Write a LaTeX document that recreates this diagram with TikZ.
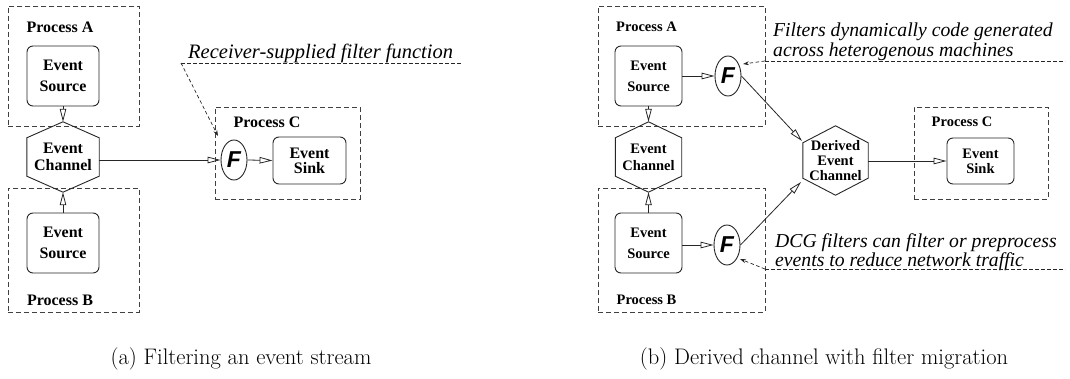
\documentclass[tikz,border=0pt]{standalone}
\usepackage{fontspec}
\newfontfamily\tms{Liberation Serif}
\newfontfamily\hlv{Liberation Sans}
\usetikzlibrary{arrows.meta,shapes.geometric}
\tikzset{
 procbox/.style={draw=black!75, line width=0.8pt, dash pattern=on 5pt off 3pt, inner sep=0pt},
 plabL/.style={font=\tms\bfseries\fontsize{16}{19}\selectfont, inner sep=0pt},
 plabR/.style={font=\tms\bfseries\fontsize{14.5}{17}\selectfont, inner sep=0pt},
 rbox/.style={draw=black!85, line width=0.9pt, rounded corners=6pt, align=center, inner sep=0pt},
 hexnode/.style={align=center, inner sep=0pt},
 hexline/.style={draw=black!85, line width=0.9pt, line join=miter},
 filt/.style={draw=black!85, line width=0.9pt, ellipse, minimum width=26pt, minimum height=40pt, inner sep=0pt, font=\hlv\bfseries\itshape\fontsize{23}{23}\selectfont},
 flow/.style={draw=black!85, line width=0.8pt, -{Triangle[open,length=13pt,width=6.5pt]}},
 note/.style={inner sep=0pt, anchor=base west, align=left},
 noteline/.style={draw=black!85, line width=0.7pt, dash pattern=on 3.5pt off 2.5pt},
 notearrow/.style={noteline, -{Stealth[length=6pt,width=4pt]}},
 capt/.style={font=\fontsize{22.5}{24}\selectfont, inner sep=0pt, anchor=base}
}
\begin{document}
\begin{tikzpicture}[x=1pt,y=-1pt]
\useasboundingbox (0,0) rectangle (1070,379);
% ---------------- (a) ----------------
\node[procbox, minimum width=131pt, minimum height=120pt] (pA) at (73.5,66) {};
\node[plabL] (pAl) at (60,27) {Process A};
\node[rbox, minimum width=72pt, minimum height=60pt, font=\tms\bfseries\fontsize{16}{21}\selectfont] (sA) at (63,76) {Event\\Source};
\node[procbox, minimum width=131pt, minimum height=124pt] (pB) at (73.5,250) {};
\node[plabL] (pBl) at (60,300) {Process B};
\node[rbox, minimum width=72pt, minimum height=60pt, font=\tms\bfseries\fontsize{16}{21}\selectfont] (sB) at (63,243) {Event\\Source};
\node[hexnode, minimum width=72pt, minimum height=70pt, font=\tms\bfseries\fontsize{16}{17}\selectfont] (ch) at (63,157) {Event\\Channel};
\draw[hexline] (ch.north) -- ([yshift=-16pt]ch.north east) -- ([yshift=16pt]ch.south east) -- (ch.south) -- ([yshift=16pt]ch.south west) -- ([yshift=-16pt]ch.north west) -- cycle;
\draw[flow] (sA.south) -- (ch.north);
\draw[flow] (sB.north) -- (ch.south);
\node[procbox, minimum width=145pt, minimum height=92pt] (pC) at (287.5,153) {};
\node[plabL] (pCl) at (267,122) {Process C};
\node[filt] (fL) at (234,160) {F};
\node[rbox, minimum width=73pt, minimum height=47pt, font=\tms\bfseries\fontsize{16}{15}\selectfont] (sk) at (309.5,160.5) {Event\\Sink};
\draw[flow] (ch.east |- fL.west) -- (fL.west);
\draw[flow] (fL.east) -- (sk.west);
\node[note, font=\tms\itshape\fontsize{20.5}{22}\selectfont] (nL) at (188,59) {Receiver-supplied filter function};
\coordinate (nLs) at (181,63);
\coordinate (nLe) at (462,63);
\coordinate (nLt) at (218,136);
\draw[noteline] (nLs) -- (nLe);
\draw[notearrow] (nLs) -- (nLt);
\node[capt] (capA) at (241,364) {(a) Filtering an event stream};
% ---------------- (b) ----------------
\node[procbox, minimum width=167pt, minimum height=120pt] (qA) at (681.5,66) {};
\node[plabR] (qAl) at (646.5,27) {Process A};
\node[rbox, minimum width=67pt, minimum height=60pt, font=\tms\bfseries\fontsize{14.5}{21}\selectfont] (tA) at (648.5,76) {Event\\Source};
\node[filt] (f1) at (728,76) {F};
\node[procbox, minimum width=167pt, minimum height=124pt] (qB) at (681.5,250) {};
\node[plabR] (qBl) at (646.5,300) {Process B};
\node[rbox, minimum width=67pt, minimum height=60pt, font=\tms\bfseries\fontsize{14.5}{21}\selectfont] (tB) at (648.5,243) {Event\\Source};
\node[filt] (f2) at (727,245) {F};
\node[hexnode, minimum width=66pt, minimum height=70pt, font=\tms\bfseries\fontsize{14.5}{17}\selectfont] (ch2) at (648.5,157) {Event\\Channel};
\draw[hexline] (ch2.north) -- ([yshift=-16pt]ch2.north east) -- ([yshift=16pt]ch2.south east) -- (ch2.south) -- ([yshift=16pt]ch2.south west) -- ([yshift=-16pt]ch2.north west) -- cycle;
\draw[flow] (tA.south) -- (ch2.north);
\draw[flow] (tB.north) -- (ch2.south);
\draw[flow] (tA.east) -- (f1.west);
\draw[flow] (tB.east |- f2.west) -- (f2.west);
\node[hexnode, minimum width=65pt, minimum height=69pt, font=\tms\bfseries\fontsize{14.5}{15}\selectfont] (dch) at (835.5,160.5) {Derived\\Event\\Channel};
\draw[hexline] (dch.north) -- ([yshift=-17pt]dch.north east) -- ([yshift=17pt]dch.south east) -- (dch.south) -- ([yshift=17pt]dch.south west) -- ([yshift=-17pt]dch.north west) -- cycle;
\coordinate (dA) at (802,141);
\coordinate (dB) at (801,182);
\draw[flow] (f1.east) -- (dA);
\draw[flow] (f2.east) -- (dB);
\node[procbox, minimum width=134pt, minimum height=92pt] (qC) at (981,153) {};
\node[plabR] (qCl) at (962,122) {Process C};
\node[rbox, minimum width=67pt, minimum height=46pt, font=\tms\bfseries\fontsize{14.5}{15}\selectfont] (sk2) at (980.5,161) {Event\\Sink};
\draw[flow] (dch.east |- sk2.west) -- (sk2.west);
\node[note, font=\tms\itshape\fontsize{19.7}{20}\selectfont] (n1) at (773,57) {Filters dynamically code generated\\across heterogenous machines};
\coordinate (n1s) at (765,61);
\coordinate (n1e) at (1065,61);
\coordinate (n1t) at (743,64);
\draw[noteline] (n1s) -- (n1e);
\draw[notearrow] (n1s) -- (n1t);
\node[note, font=\tms\itshape\fontsize{19.7}{19}\selectfont] (n2) at (775,266) {DCG filters can filter or preprocess\\events to reduce network traffic};
\coordinate (n2s) at (765,269);
\coordinate (n2e) at (1065,269);
\coordinate (n2t) at (740,259);
\draw[noteline] (n2s) -- (n2e);
\draw[notearrow] (n2s) -- (n2t);
\node[capt] (capB) at (824,364) {(b) Derived channel with filter migration};
\end{tikzpicture}
\end{document}
